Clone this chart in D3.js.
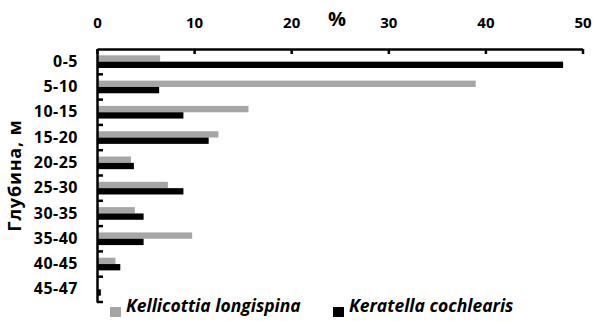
<!DOCTYPE html>
<html>
<head>
<meta charset="utf-8">
<script src="https://cdn.jsdelivr.net/npm/d3@7"></script>
<style>
html,body{margin:0;padding:0;background:#fff;}
svg{display:block;}
text{font-family:"Open Sans",sans-serif;font-weight:bold;fill:#000;}
</style>
</head>
<body>
<svg id="chart" width="595" height="321"></svg>
<script>
const categories = ["0-5","5-10","10-15","15-20","20-25","25-30","30-35","35-40","40-45","45-47"];
const seriesNames = ["Kellicottia longispina","Keratella cochlearis"];
const kellicottia = [6.5, 39.0, 15.6, 12.5, 3.5, 7.3, 3.9, 9.8, 1.9, 0];
const keratella   = [48.0, 6.4, 8.9, 11.5, 3.8, 8.9, 4.8, 4.8, 2.4, 0.4];
const xTicks = [0,10,20,30,40,50];
const colors = ["#a8a5a5","#000000"];

const svg = d3.select("#chart");
const mLeft = 97, mRight = 582.5, mTop = 49, mBottom = 302;

const x = d3.scaleLinear().domain([0,50]).range([mLeft,mRight]);
const y = d3.scaleBand().domain(categories).range([mTop,mBottom]).paddingInner(0).paddingOuter(0);
const sub = d3.scaleBand().domain([0,1]).range([0,y.bandwidth()]).paddingInner(0).paddingOuter(1);

const data = categories.map((c,i)=>({cat:c, vals:[kellicottia[i], keratella[i]]}));

// bars
const g = svg.append("g");
data.forEach(d=>{
  d.vals.forEach((v,j)=>{
    if(v<=0) return;
    g.append("rect")
      .attr("x", x(0))
      .attr("y", y(d.cat)+sub(j))
      .attr("width", x(v)-x(0))
      .attr("height", sub.bandwidth())
      .attr("fill", colors[j]);
  });
});

// top axis
const xAxis = d3.axisTop(x).tickValues(xTicks).tickSizeInner(-5).tickSizeOuter(0).tickPadding(21).tickFormat(d3.format("d"));
const gx = svg.append("g").attr("transform",`translate(0,${mTop})`).call(xAxis);
gx.select(".domain").attr("stroke","#000").attr("stroke-width",2.5);
gx.selectAll(".tick line").attr("stroke","#000").attr("stroke-width",2.5);
gx.selectAll(".tick text").style("font-size","15px").attr("fill","#000");

// left axis: line + ticks at band boundaries, labels at centers
const yAxis = d3.axisLeft(y).tickSize(0).tickPadding(19);
const gy = svg.append("g").attr("transform",`translate(${mLeft},0)`).call(yAxis);
gy.select(".domain").attr("stroke","#000").attr("stroke-width",2.5);
gy.selectAll(".tick text").style("font-size","16px").style("letter-spacing","0.5px").attr("fill","#000");

const boundaries = categories.slice(1).map(c=>y(c)).concat([mBottom]);
svg.append("g").selectAll("line").data(boundaries).join("line")
  .attr("x1", mLeft).attr("x2", mLeft+6)
  .attr("y1", d=>d).attr("y2", d=>d)
  .attr("stroke","#000").attr("stroke-width",2.5);

// % label
svg.append("text").attr("x",337).attr("y",26).attr("text-anchor","middle")
  .style("font-size","20px").text("%");

// y title
svg.append("text")
  .attr("transform",`translate(21,${(mTop+mBottom)/2}) rotate(-90)`)
  .attr("text-anchor","middle")
  .style("font-size","18px").style("letter-spacing","0.8px")
  .text("Глубина, м");

// legend
const legendX = [110, 333];
seriesNames.forEach((name,j)=>{
  const lg = svg.append("g").attr("transform",`translate(${legendX[j]},307)`);
  lg.append("rect").attr("x",0).attr("y",0).attr("width",11).attr("height",10).attr("fill",colors[j]);
  lg.append("text").attr("x",16).attr("y",4.5).style("font-size","17.5px").style("font-style","italic").text(name);
});
</script>
</body>
</html>
